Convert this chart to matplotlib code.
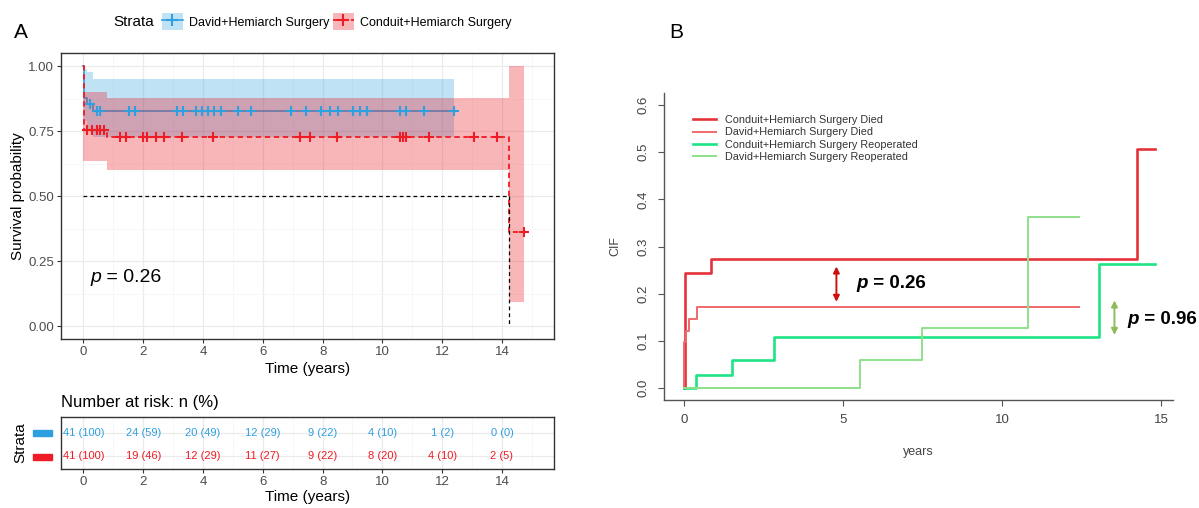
import numpy as np
import matplotlib.pyplot as plt
from matplotlib.patches import Patch, Rectangle
from matplotlib.lines import Line2D

plt.rcParams['font.family'] = ['Liberation Sans', 'DejaVu Sans']

# ---------------- Panel A : Kaplan-Meier ----------------
# David+Hemiarch Surgery
david_t = [0.0, 0.005, 0.01, 0.02, 0.03, 0.13, 0.33, 12.40]
david_s = [1.0, 0.976, 0.951, 0.927, 0.878, 0.854, 0.829, 0.829]
david_hi = [1.0, 1.0, 0.991, 0.991, 0.991, 0.977, 0.953, 0.953]
david_lo = [1.0, 0.93, 0.89, 0.86, 0.79, 0.76, 0.73, 0.73]
david_cens = [0.22, 0.44, 0.56, 1.52, 1.74, 3.12, 3.32, 3.76, 3.96, 4.16, 4.38,
              4.61, 5.17, 5.60, 6.94, 7.45, 7.94, 8.25, 8.50, 9.01, 9.24, 9.47,
              10.59, 10.78, 11.40, 12.38]

# Conduit+Hemiarch Surgery
cond_t = [0.0, 0.02, 0.80, 14.22, 14.74]
cond_s = [1.0, 0.756, 0.727, 0.363, 0.363]
cond_hi = [0.90, 0.90, 0.878, 1.0, 1.0]
cond_lo = [0.637, 0.637, 0.60, 0.094, 0.094]
cond_cens = [0.13, 0.28, 0.44, 0.56, 0.69, 1.22, 1.44, 2.0, 2.11, 2.43, 2.70,
             3.29, 4.35, 7.26, 7.58, 8.48, 10.59, 10.70, 10.80, 11.55, 13.06,
             13.83, 14.72]

median_t = 14.22

# number at risk
risk_times = [0, 2, 4, 6, 8, 10, 12, 14]
david_n = [41, 24, 20, 12, 9, 4, 1, 0]
david_pct = [100, 59, 49, 29, 22, 10, 2, 0]
cond_n = [41, 19, 12, 11, 9, 8, 4, 2]
cond_pct = [100, 46, 29, 27, 22, 20, 10, 5]

# ---------------- Panel B : CIF ----------------
cond_died_t = [0.0, 0.04, 0.84, 14.24, 14.79]
cond_died_y = [0.0, 0.244, 0.273, 0.506, 0.506]
david_died_t = [0.0, 0.01, 0.05, 0.16, 0.42, 12.41]
david_died_y = [0.0, 0.098, 0.122, 0.146, 0.172, 0.172]
cond_reop_t = [0.0, 0.37, 1.52, 2.82, 13.04, 14.79]
cond_reop_y = [0.0, 0.027, 0.060, 0.108, 0.263, 0.263]
david_reop_t = [0.0, 5.53, 7.49, 10.82, 12.41]
david_reop_y = [0.0, 0.059, 0.128, 0.363, 0.363]

BLUE = '#2E9FDF'
RED = '#EE1C25'

W, H = 1199, 508
fig = plt.figure(figsize=(W / 100, H / 100), dpi=100)


def px_axes(l, t, r, b):
    return fig.add_axes([l / W, 1 - b / H, (r - l) / W, (b - t) / H])


def step_at(ts, ys, x):
    i = np.searchsorted(ts, x, side='right') - 1
    return ys[i]


def style_gg(a):
    for s in a.spines.values():
        s.set_color('#333333')
        s.set_linewidth(1.0)
    a.tick_params(length=3, color='#333333', labelcolor='#4D4D4D', labelsize=9.5, pad=2)
    a.set_xticks(range(0, 15, 2))
    a.set_xticks(range(1, 17, 2), minor=True)
    a.tick_params(which='minor', length=0)
    a.grid(True, which='major', color='#EBEBEB', lw=0.9)
    a.grid(True, which='minor', color='#F4F4F4', lw=0.5)
    a.set_axisbelow(True)
    a.set_xlim(-0.75, 15.75)


# --- main KM axes
ax = px_axes(61, 53.3, 554.3, 339.3)
style_gg(ax)
ax.set_ylim(-0.05, 1.05)
ax.set_yticks([0, 0.25, 0.5, 0.75, 1.0])
ax.set_yticklabels(['0.00', '0.25', '0.50', '0.75', '1.00'])
ax.set_yticks([0.125, 0.375, 0.625, 0.875], minor=True)

ax.fill_between(david_t, david_lo, david_hi, step='post', color=BLUE, alpha=0.3, lw=0, zorder=1)
ax.step(david_t, david_s, where='post', color=BLUE, lw=1.2, zorder=2)
ax.fill_between(cond_t, cond_lo, cond_hi, step='post', color=RED, alpha=0.32, lw=0, zorder=3)
ax.step(cond_t, cond_s, where='post', color=RED, lw=1.3, ls=(0, (3, 2)), zorder=4)

# median survival
ax.plot([0, median_t], [0.5, 0.5], color='black', lw=0.9, ls=(0, (3, 2.5)), zorder=4)
ax.plot([median_t, median_t], [0.5, 0], color='black', lw=0.9, ls=(0, (3, 2.5)), zorder=4)

ax.plot(david_cens, [step_at(david_t, david_s, c) for c in david_cens], ls='none',
        marker='+', ms=7.5, mew=1.5, color=BLUE, zorder=5)
ax.plot(cond_cens, [step_at(cond_t, cond_s, c) for c in cond_cens], ls='none',
        marker='+', ms=7.5, mew=1.5, color=RED, zorder=5)

p1 = ax.text(0.22, 0.186, 'p', style='italic', fontsize=14, va='center', ha='left')
ax.annotate(' = 0.26', xy=(1, 0.5), xycoords=p1, va='center', ha='left', fontsize=14)

fig.text(307.7 / W, 1 - 369 / H, 'Time (years)', ha='center', va='center', fontsize=11)
fig.text(18.3 / W, 1 - 196 / H, 'Survival probability', rotation=90, ha='center',
         va='center', fontsize=11)
fig.text(20.7 / W, 1 - 32 / H, 'A', ha='center', va='center', fontsize=15)

# legend on top
fig.text(113 / W, 1 - 21.7 / H, 'Strata', ha='left', va='center', fontsize=11)
h_david = (Patch(fc=BLUE, alpha=0.3, lw=0),
           Line2D([], [], color=BLUE, lw=1.2, marker='+', ms=8, mew=1.5))
h_cond = (Patch(fc=RED, alpha=0.32, lw=0),
          Line2D([], [], color=RED, lw=1.3, ls=(0, (3, 2)), marker='+', ms=8, mew=1.5))
fig.legend([h_david, h_cond], ['David+Hemiarch Surgery', 'Conduit+Hemiarch Surgery'],
           loc='center left', bbox_to_anchor=(161.5 / W, 1 - 21.7 / H), ncol=2,
           frameon=False, borderpad=0, borderaxespad=0, handlelength=1.75,
           handleheight=1.7, handletextpad=0.45, columnspacing=0.25, fontsize=9)

# --- risk table
tab = px_axes(61, 416.7, 554.3, 469.3)
style_gg(tab)
tab.set_ylim(0.45, 2.7)
tab.set_yticks([1, 2])
tab.set_yticklabels([])
tab.tick_params(axis='y', length=0)
for t, n, p in zip(risk_times, david_n, david_pct):
    tab.text(t, 2, f'{n} ({p})', ha='center', va='center', color=BLUE, fontsize=8)
for t, n, p in zip(risk_times, cond_n, cond_pct):
    tab.text(t, 1, f'{n} ({p})', ha='center', va='center', color=RED, fontsize=8)
for yc, col in [(0.684, BLUE), (0.24, RED)]:
    tab.add_patch(Rectangle((-0.0562, yc - 0.06), 0.0373, 0.12, transform=tab.transAxes,
                            color=col, clip_on=False))
fig.text(61 / W, 1 - 402 / H, 'Number at risk: n (%)', ha='left', va='center', fontsize=12)
fig.text(307.7 / W, 1 - 497 / H, 'Time (years)', ha='center', va='center', fontsize=11)
fig.text(20 / W, 1 - 443 / H, 'Strata', rotation=90, ha='center', va='center', fontsize=11)

# ---------------- Panel B ----------------
axB = px_axes(664.3, 93.3, 1173, 400)
axB.set_xlim(-0.62, 15.37)
axB.set_ylim(-0.025, 0.625)
for s in ['top', 'right']:
    axB.spines[s].set_visible(False)
for s in ['left', 'bottom']:
    axB.spines[s].set_color('#555555')
    axB.spines[s].set_linewidth(1.0)
axB.set_xticks([0, 5, 10, 15])
axB.set_yticks([0.0, 0.1, 0.2, 0.3, 0.4, 0.5, 0.6])
axB.set_yticklabels(['0.0', '0.1', '0.2', '0.3', '0.4', '0.5', '0.6'], rotation=90, va='center')
axB.tick_params(length=4, color='#555555', labelcolor='#444444', labelsize=9.5)
axB.tick_params(axis='y', pad=7)
axB.tick_params(axis='x', pad=6)

axB.step(cond_died_t, cond_died_y, where='post', color='#E5323A', lw=1.9,
         label='Conduit+Hemiarch Surgery Died')
axB.step(david_died_t, david_died_y, where='post', color='#EE6A6C', lw=1.4,
         label='David+Hemiarch Surgery Died')
axB.step(cond_reop_t, cond_reop_y, where='post', color='#1EE384', lw=1.9,
         label='Conduit+Hemiarch Surgery Reoperated')
axB.step(david_reop_t, david_reop_y, where='post', color='#8EE08A', lw=1.4,
         label='David+Hemiarch Surgery Reoperated')
axB.legend(loc='upper left', bbox_to_anchor=(0.057, 0.929), frameon=False, fontsize=7.8,
           handlelength=2.1, handletextpad=0.85, labelspacing=0.22, borderpad=0,
           borderaxespad=0, labelcolor='#333333')

axB.annotate('', xy=(4.79, 0.258), xytext=(4.79, 0.183),
             arrowprops=dict(arrowstyle='<|-|>', color='#D10F0F', lw=1.4,
                             mutation_scale=9, shrinkA=0, shrinkB=0))
axB.annotate('', xy=(13.53, 0.186), xytext=(13.53, 0.113),
             arrowprops=dict(arrowstyle='<|-|>', color='#8DBB5A', lw=1.4,
                             mutation_scale=9, shrinkA=0, shrinkB=0))
pb1 = axB.text(5.41, 0.221, 'p', style='italic', weight='bold', fontsize=13.5,
               va='center', ha='left')
axB.annotate(' = 0.26', xy=(1, 0.5), xycoords=pb1, va='center', ha='left',
             weight='bold', fontsize=13.5)
pb2 = axB.text(13.95, 0.146, 'p', style='italic', weight='bold', fontsize=13.5,
               va='center', ha='left')
axB.annotate(' = 0.96', xy=(1, 0.5), xycoords=pb2, va='center', ha='left',
             weight='bold', fontsize=13.5)

fig.text(918.6 / W, 1 - 451.7 / H, 'years', ha='center', va='center', fontsize=9,
         color='#444444')
fig.text(615 / W, 1 - 246 / H, 'CIF', rotation=90, ha='center', va='center', fontsize=9,
         color='#444444')
fig.text(676 / W, 1 - 32 / H, 'B', ha='center', va='center', fontsize=15)

fig.savefig('out.png', dpi=100)
